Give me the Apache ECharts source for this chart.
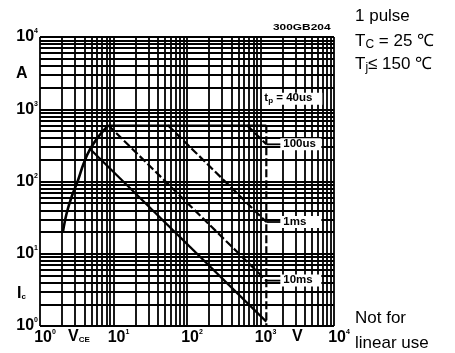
<!DOCTYPE html>
<html><head><meta charset="utf-8">
<script src="https://cdn.jsdelivr.net/npm/echarts@6/dist/echarts.min.js"></script>
<style>html,body{margin:0;padding:0;background:#fff}#c{width:455px;height:353px}</style>
</head><body><div id="c"></div>
<script>
// Maximum safe operating area, single pulse, log-log scales
const xTickExp = [0, 1, 2, 3, 4];
const yTickExp = [0, 1, 2, 3, 4];

// Collector current rise (solid curve)
const curveV = [2.05, 2.3, 2.7, 3.3, 3.9, 4.8, 6.5, 8.5];
const curveI = [20, 36, 62, 105, 175, 280, 440, 600];
// DC limit (solid)
const dcV = [4.8, 1200];
const dcI = [282, 1.15];
// Pulse limits (dashed)
const p40usV = [8.5, 1200];
const p40usI = [600, 600];
const p100usV = [655, 1200];
const p100usI = [600, 327];
const p1msV = [55, 1200];
const p1msI = [600, 27.5];
const p10msV = [8.5, 1200];
const p10msI = [600, 4.25];
// V_CES limit
const vcesV = [1200, 1200];
const vcesI = [600, 1];

const pulseNames = ['100us', '1ms', '10ms'];
const pulseEndI = [p100usI[1], p1msI[1], p10msI[1]];

// decade + 2..9 log grid
const gridValues = [];
for (let e = 0; e < 4; e++) for (let m = 1; m < 10; m++) gridValues.push(m * Math.pow(10, e));
gridValues.push(10000);

const pairs = (xs, ys) => xs.map((x, i) => [x, ys[i]]);
const font = 'Liberation Sans, Arial, sans-serif';

const tickRich = {
  b: { fontSize: 16, fontWeight: 'bold', fontFamily: font, color: '#000', lineHeight: 17 },
  s: { fontSize: 7, fontWeight: 'bold', fontFamily: font, color: '#000', lineHeight: 17, padding: [0, 0, 11, 0] }
};
const fmt = v => '{b|10}{s|' + Math.round(Math.log10(v)) + '}';

const chart = echarts.init(document.getElementById('c'), null, { renderer: 'canvas' });
const gridStyle = { color: '#000', width: 1.8, type: 'solid' };
const dash = { color: '#000', width: 2.2, type: [8, 3] };

chart.setOption({
  animation: false,
  backgroundColor: '#fff',
  grid: { left: 40, top: 37, width: 294, height: 289, containLabel: false },
  xAxis: {
    type: 'log', logBase: 10, min: 1, max: 10000,
    axisLine: { show: false }, axisTick: { show: false }, splitLine: { show: false },
    axisLabel: { formatter: fmt, rich: tickRich, margin: 3, padding: [0, 0, 0, 10],
      customValues: xTickExp.map(e => Math.pow(10, e)) }
  },
  yAxis: {
    type: 'log', logBase: 10, min: 1, max: 10000,
    axisLine: { show: false }, axisTick: { show: false }, splitLine: { show: false },
    axisLabel: { formatter: fmt, rich: tickRich, margin: 2,
      customValues: yTickExp.map(e => Math.pow(10, e)) }
  },
  series: [
    {
      type: 'line', data: [], z: 1, silent: true,
      markLine: {
        silent: true, symbol: 'none', label: { show: false }, lineStyle: gridStyle,
        emphasis: { disabled: true },
        data: gridValues.map(v => ({ xAxis: v })).concat(gridValues.map(v => ({ yAxis: v })))
      }
    },
    { type: 'line', data: pairs(curveV, curveI), smooth: 0.4, symbol: 'none', z: 3,
      lineStyle: { color: '#000', width: 2.6 } },
    { type: 'line', data: pairs(dcV, dcI), symbol: 'none', z: 3, lineStyle: { color: '#000', width: 2.2 } },
    { type: 'line', data: pairs(p40usV, p40usI), symbol: 'none', z: 3, lineStyle: { color: '#000', width: 1.8 } },
    { type: 'line', data: pairs(p100usV, p100usI), symbol: 'none', z: 3, lineStyle: dash },
    { type: 'line', data: pairs(p1msV, p1msI), symbol: 'none', z: 3, lineStyle: dash },
    { type: 'line', data: pairs(p10msV, p10msI), symbol: 'none', z: 3, lineStyle: dash },
    { type: 'line', data: pairs(vcesV, vcesI), symbol: 'none', z: 3, lineStyle: dash }
  ]
});

// Annotations: pulse-width tags at the V_CES line, axis names, conditions
const g = [];
pulseNames.forEach((name, i) => {
  const p = chart.convertToPixel({ gridIndex: 0 }, [vcesV[0], pulseEndI[i]]);
  g.push({ type: 'rect', z: 10, shape: { x: p[0] + 14, y: p[1] - 6, width: 41, height: 12 }, style: { fill: '#fff' } });
  g.push({ type: 'line', z: 11, shape: { x1: p[0], y1: p[1], x2: p[0] + 14, y2: p[1] }, style: { stroke: '#000', lineWidth: 1.8 } });
  g.push({ type: 'text', z: 11, x: p[0] + 17, y: p[1], scaleX: 1.15,
    style: { text: name, fontSize: 10, fontWeight: 'bold', fontFamily: font, fill: '#000', verticalAlign: 'middle' } });
});
const p40 = chart.convertToPixel({ gridIndex: 0 }, [vcesV[0], 1400]);
g.push({ type: 'rect', z: 10, shape: { x: p40[0] - 4, y: p40[1] - 6, width: 60, height: 12 }, style: { fill: '#fff' } });
g.push({ type: 'text', z: 11, x: p40[0] - 2, y: p40[1], scaleX: 1.15,
  style: { text: '{a|t}{p|p}{a| = 40us}', verticalAlign: 'middle', rich: {
    a: { fontSize: 10, fontWeight: 'bold', fontFamily: font, fill: '#000', lineHeight: 12 },
    p: { fontSize: 7, fontWeight: 'bold', fontFamily: font, fill: '#000', lineHeight: 12, padding: [5, 0, 0, 0] } } } });

g.push({ type: 'text', x: 273, y: 28, scaleX: 1.4,
  style: { text: '300GB204', fontSize: 8.5, fontWeight: 'bold', fontFamily: font, fill: '#000', verticalAlign: 'middle' } });

const axisRich = {
  m: { fontSize: 16, fontWeight: 'bold', fontFamily: font, fill: '#000', lineHeight: 17 },
  sub: { fontSize: 8, fontWeight: 'bold', fontFamily: font, fill: '#000', lineHeight: 17, padding: [6, 0, 0, 0] }
};
g.push({ type: 'text', x: 16, y: 74, style: { text: '{m|A}', rich: axisRich, verticalAlign: 'middle' } });
g.push({ type: 'text', x: 17, y: 294, style: { text: '{m|I}{sub|c}', rich: axisRich, verticalAlign: 'middle' } });
g.push({ type: 'text', x: 68, y: 337, style: { text: '{m|V}{sub|CE}', rich: axisRich, verticalAlign: 'middle' } });
g.push({ type: 'text', x: 292, y: 337, style: { text: '{m|V}', rich: axisRich, verticalAlign: 'middle' } });

const noteRich = {
  n: { fontSize: 17, fontFamily: font, fill: '#000', lineHeight: 20 },
  d: { fontSize: 12, fontFamily: font, fill: '#000', lineHeight: 20, padding: [7, 0, 0, 0] }
};
[['{n|1 pulse}', 16], ['{n|T}{d|C}{n| = 25 \u2103}', 41], ['{n|T}{d|j}{n|\u2264 150 \u2103}', 64],
 ['{n|Not for}', 318], ['{n|linear use}', 343]].forEach(([t, y]) => {
  g.push({ type: 'text', x: 355, y: y, style: { text: t, rich: noteRich, verticalAlign: 'middle' } });
});

chart.setOption({ graphic: g });
</script></body></html>
